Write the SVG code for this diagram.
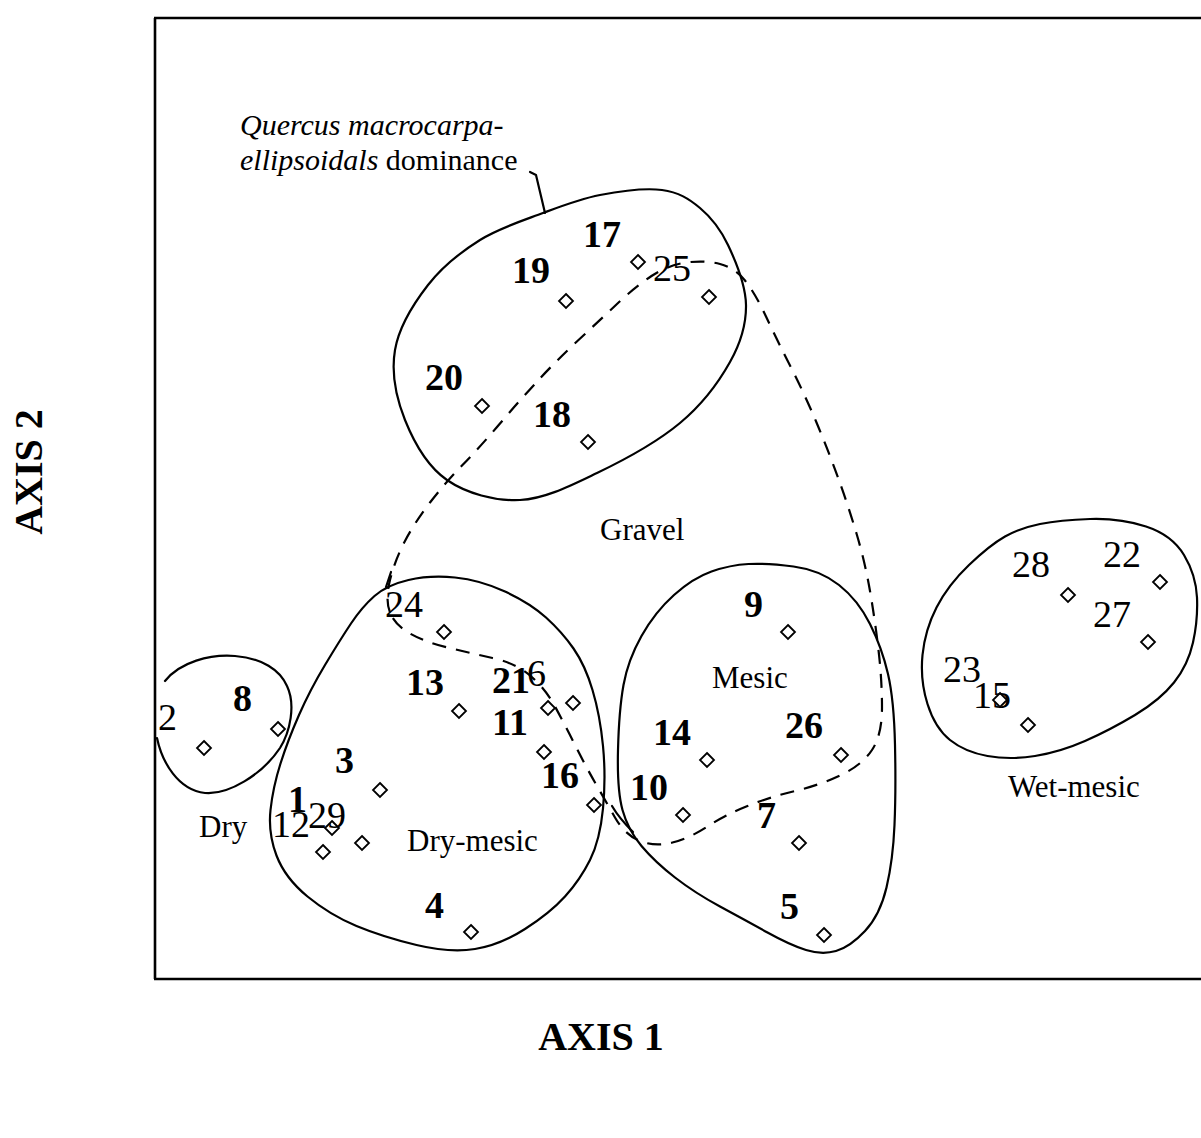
<svg xmlns="http://www.w3.org/2000/svg" xmlns:xlink="http://www.w3.org/1999/xlink" width="1201" height="1138" viewBox="0 0 1201 1138">
<style>
.n{font-family:"Liberation Serif","Times New Roman",serif;font-size:38px;fill:#000}
.b{font-weight:bold}
.lbl{font-family:"Liberation Serif","Times New Roman",serif;font-size:31px;fill:#000}
.q{font-family:"Liberation Serif","Times New Roman",serif;font-size:30px;fill:#000}
.ax{font-family:"Liberation Serif","Times New Roman",serif;font-size:40px;font-weight:bold;fill:#000}
.ol{fill:none;stroke:#000;stroke-width:2.2;stroke-linejoin:round;stroke-linecap:round}
.dash{fill:none;stroke:#000;stroke-width:2.2;stroke-dasharray:14 10}
.frame{fill:none;stroke:#000;stroke-width:2.6}
</style>
<defs>
<path id="dm" d="M0,-7 L7,0 L0,7 L-7,0 Z" fill="none" stroke="#000" stroke-width="1.8"/>
</defs>
<rect width="1201" height="1138" fill="#fff"/>
<g id="frame">
<path class="frame" d="M155,18 V979 M154,18 H1201 M154,979 H1201"/>
</g>
<g id="axis-labels">
<text class="ax" transform="translate(42,472) rotate(-90)" text-anchor="middle">AXIS 2</text>
<text class="ax" x="601" y="1050" text-anchor="middle">AXIS 1</text>
</g>
<g id="region-quercus">
<path class="ol" d="M543,213 C563,205.5 580.2,198.8 600,195 C619.8,191.2 645.3,187.8 662,190 C678.7,192.2 689,198.8 700,208 C711,217.2 720.3,228.8 728,245 C735.7,261.2 745.7,285.5 746,305 C746.3,324.5 741,342.3 730,362 C719,381.7 702.2,404.5 680,423 C657.8,441.5 623.7,460.2 597,473 C570.3,485.8 545,498.8 520,500 C495,501.2 466.2,493.3 447,480 C427.8,466.7 413.7,441.7 405,420 C396.3,398.3 391.2,372.5 395,350 C398.8,327.5 413.8,303.3 428,285 C442.2,266.7 460.8,252 480,240 C499.2,228 523,220.5 543,213 Z"/>
<text class="q" x="240" y="135" font-style="italic">Quercus macrocarpa-</text>
<text class="q" x="240" y="170"><tspan font-style="italic">ellipsoidals</tspan> dominance</text>
</g>
<g id="region-gravel">
<path class="dash" d="M390,612.5 Q385,600 390,580 T405,541 T430,502.5 T462.5,465 T500,423.5 T538.5,380 T578.5,340 T617.5,303.5 T651.5,276 T686.5,262.5 T720,264 T745,280.5 T766,316.5 T791,367.5 T816.5,422.5 T838,477.5 T856.5,533.5 T870,591 T878.5,650 T882,707.5 T872,750 T841,775 T795,791 T747.5,806 T707.5,826.5 T672.5,842.5 T640,841 T615,817.5 T595,782.5 T575,745 T555,706.5 T530,675.5 T492.5,658 T447.5,647.5 T410,633.5 T390,612.5"/>
<text class="lbl" x="600" y="540">Gravel</text>
</g>
<g id="region-dry">
<path class="ol" d="M157,738 C162,762 178,790 205,793 C228,795 262,775 280,748 C290,732 296,705 287,686 C280,670 262,658 235,656 C210,654 180,662 165,681"/>
<text class="lbl" x="199" y="837">Dry</text>
</g>
<g id="region-dry-mesic">
<path class="ol" d="M374.5,596 Q387,585 408.5,580 T455,577.5 T505,591.5 T546,617.5 T573.5,648.5 T592.5,690 T603,746 T603,808.5 T590,860 T565,896.5 T525,929 T475,949 T416.5,945 T356.5,926 T307.5,896.5 T276.5,855.5 T270.5,810 T280.5,763.5 T299,715 T325,665 T351,623.5 T374.5,596 Z"/>
<path class="ol" d="M391,572 L386,587"/>
<text class="lbl" x="407" y="851">Dry-mesic</text>
</g>
<g id="region-mesic">
<path class="ol" d="M748.5,564 Q767,563 793.5,566.5 T839,585 T870,624 T888,674 T895,745 T894.5,825 T886.5,887.5 T865,931 T836,951 T806,950 T767.5,932.5 T720,906.5 T675,877.5 T641.5,846 T622.5,810 T618,750 T623.5,685 T641.5,636 T674,595 T711.5,571.5 T748.5,564 Z"/>
<path class="ol" d="M612,806 Q619,818 633,832"/>
<text class="lbl" x="712" y="688">Mesic</text>
</g>
<g id="region-wet-mesic">
<path class="ol" d="M1040,524 Q1060,520 1090,519 T1146,526.5 T1184,555 T1197,597.5 T1193,642.5 T1174,682.5 T1135,715 T1085,741 T1035,756 T987.5,756 T950,740 T927.5,704 T922.5,655 T936.5,607.5 T969,565 T1005,536.5 T1040,524 Z"/>
<text class="lbl" x="1008" y="797">Wet-mesic</text>
</g>
<g id="connectors">
<polyline class="ol" points="530,172 536,175 545,213"/>
</g>
<g id="p17"><use xlink:href="#dm" x="638" y="262"/><text class="n b" x="583" y="247">17</text></g>
<g id="p19"><use xlink:href="#dm" x="566" y="301"/><text class="n b" x="512" y="283">19</text></g>
<g id="p25"><use xlink:href="#dm" x="709" y="297"/><text class="n" x="653" y="281">25</text></g>
<g id="p20"><use xlink:href="#dm" x="482" y="406"/><text class="n b" x="425" y="390">20</text></g>
<g id="p18"><use xlink:href="#dm" x="588" y="442"/><text class="n b" x="533" y="427">18</text></g>
<g id="p24"><use xlink:href="#dm" x="444" y="632"/><text class="n" x="385" y="617">24</text></g>
<g id="p13"><use xlink:href="#dm" x="459" y="711"/><text class="n b" x="406" y="695">13</text></g>
<g id="p21"><use xlink:href="#dm" x="548" y="708"/><text class="n b" x="492" y="693">21</text></g>
<g id="p6"><use xlink:href="#dm" x="573" y="703"/><text class="n" x="527" y="686">6</text></g>
<g id="p11"><use xlink:href="#dm" x="544" y="752"/><text class="n b" x="492" y="735">11</text></g>
<g id="p16"><use xlink:href="#dm" x="594" y="805"/><text class="n b" x="541" y="788">16</text></g>
<g id="p2"><use xlink:href="#dm" x="204" y="748"/><text class="n" x="158" y="730">2</text></g>
<g id="p8"><use xlink:href="#dm" x="278" y="729"/><text class="n b" x="233" y="711">8</text></g>
<g id="p3"><use xlink:href="#dm" x="380" y="790"/><text class="n b" x="335" y="773">3</text></g>
<g id="p1"><use xlink:href="#dm" x="332" y="828"/><text class="n b" x="288" y="812">1</text></g>
<g id="p12"><use xlink:href="#dm" x="323" y="852"/><text class="n" x="272" y="837">12</text></g>
<g id="p29"><use xlink:href="#dm" x="362" y="843"/><text class="n" x="308" y="828">29</text></g>
<g id="p4"><use xlink:href="#dm" x="471" y="932"/><text class="n b" x="425" y="918">4</text></g>
<g id="p9"><use xlink:href="#dm" x="788" y="632"/><text class="n b" x="744" y="617">9</text></g>
<g id="p14"><use xlink:href="#dm" x="707" y="760"/><text class="n b" x="653" y="745">14</text></g>
<g id="p26"><use xlink:href="#dm" x="841" y="755"/><text class="n b" x="785" y="738">26</text></g>
<g id="p10"><use xlink:href="#dm" x="683" y="815"/><text class="n b" x="630" y="800">10</text></g>
<g id="p7"><use xlink:href="#dm" x="799" y="843"/><text class="n b" x="757" y="828">7</text></g>
<g id="p5"><use xlink:href="#dm" x="824" y="935"/><text class="n b" x="780" y="919">5</text></g>
<g id="p28"><use xlink:href="#dm" x="1068" y="595"/><text class="n" x="1012" y="577">28</text></g>
<g id="p22"><use xlink:href="#dm" x="1160" y="582"/><text class="n" x="1103" y="567">22</text></g>
<g id="p27"><use xlink:href="#dm" x="1148" y="642"/><text class="n" x="1093" y="627">27</text></g>
<g id="p23"><use xlink:href="#dm" x="1028" y="725"/><text class="n" x="943" y="682">23</text></g>
<g id="p15"><use xlink:href="#dm" x="1000" y="700"/><text class="n" x="973" y="708">15</text></g>
</svg>
